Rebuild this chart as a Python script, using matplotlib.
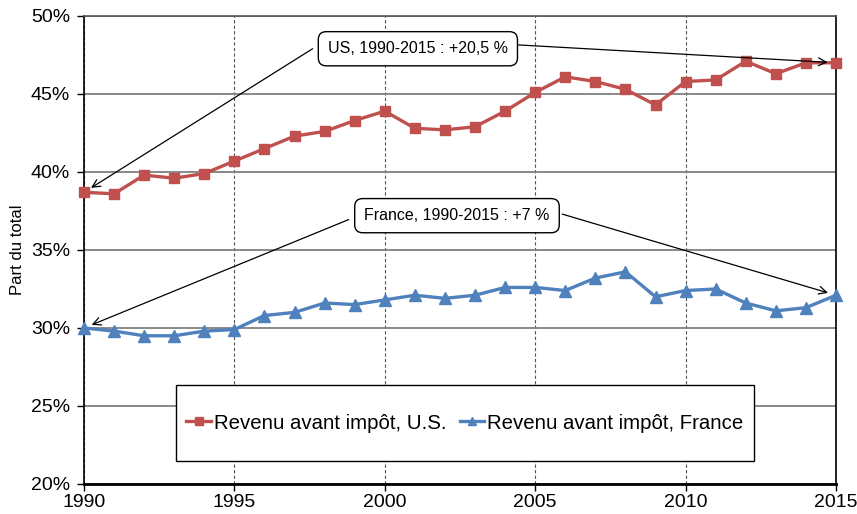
import matplotlib
matplotlib.use('Agg')
import matplotlib.pyplot as plt
from matplotlib.patches import Rectangle
from matplotlib.ticker import FuncFormatter

plt.rcParams['font.family'] = ['Liberation Sans', 'DejaVu Sans']

# données
years = list(range(1990, 2016))
us = [38.7, 38.6, 39.8, 39.6, 39.9, 40.7, 41.5, 42.3, 42.6, 43.3,
      43.9, 42.8, 42.7, 42.9, 43.9, 45.1, 46.1, 45.8, 45.3, 44.3,
      45.8, 45.9, 47.1, 46.3, 47.0, 47.0]
france = [30.0, 29.8, 29.5, 29.5, 29.8, 29.9, 30.8, 31.0, 31.6, 31.5,
          31.8, 32.1, 31.9, 32.1, 32.6, 32.6, 32.4, 33.2, 33.6, 32.0,
          32.4, 32.5, 31.6, 31.1, 31.3, 32.1]

RED = '#C0504D'
BLUE = '#4F81BD'

fig = plt.figure(figsize=(8.57, 5.14), dpi=100, facecolor='white')
ax = fig.add_axes([0.098, 0.0584, 0.8775, 0.9105])

ax.plot(years, us, color=RED, lw=2.4, marker='s', ms=7.5, mec=RED,
        label='Revenu avant impôt, U.S.', zorder=4, clip_on=False)
ax.plot(years, france, color=BLUE, lw=2.4, marker='^', ms=8, mec=BLUE,
        label='Revenu avant impôt, France', zorder=4, clip_on=False)

ax.set_xlim(1990, 2015)
ax.set_ylim(20, 50)
ax.set_xticks(range(1990, 2016, 5))
ax.set_yticks(range(20, 51, 5))
ax.yaxis.set_major_formatter(FuncFormatter(lambda v, p: f'{v:.0f}%'))
ax.tick_params(labelsize=14, direction='out', length=5, width=1,
               colors='black')
ax.tick_params(axis='y', pad=5)
ax.tick_params(axis='x', pad=2)
ax.set_ylabel('Part du total', fontsize=12, labelpad=4)

# quadrillage
ax.yaxis.grid(True, color='#808080', lw=1.3, ls='-', zorder=0)
ax.xaxis.grid(True, color='#555555', lw=0.8, ls=(0, (3, 2)), zorder=0)
for s in ax.spines.values():
    s.set_color('black')
    s.set_linewidth(1.2)
ax.spines['bottom'].set_linewidth(2)
ax.spines['top'].set_color('#555555')

# annotations
box = dict(boxstyle='round,pad=0.6,rounding_size=0.5', fc='white',
           ec='black', lw=1)
arrow = dict(arrowstyle='->', color='black', lw=0.9,
             shrinkA=0, shrinkB=6, mutation_scale=14)

ax.text(2001.1, 47.9, 'US, 1990-2015 : +20,5 %', fontsize=11.5,
        ha='center', va='center', bbox=box, zorder=6)
ax.annotate('', xy=(years[0], us[0]), xytext=(1997.6, 47.9),
            arrowprops=arrow, zorder=5)
ax.annotate('', xy=(years[-1], us[-1]), xytext=(2004.4, 48.15),
            arrowprops=arrow, zorder=5)

ax.text(2002.4, 37.2, 'France, 1990-2015 : +7 %', fontsize=11.5,
        ha='center', va='center', bbox=box, zorder=6)
ax.annotate('', xy=(years[0], france[0]), xytext=(1998.8, 36.95),
            arrowprops=arrow, zorder=5)
ax.annotate('', xy=(years[-1], france[-1]), xytext=(2005.9, 37.3),
            arrowprops=arrow, zorder=5)

# cadre de légende (plus haut que large, comme dans Excel)
ax.add_patch(Rectangle((0.1223, 0.0491), 0.7687, 0.1624,
                       transform=ax.transAxes, fc='white', ec='black',
                       lw=1, zorder=6))
leg = ax.legend(loc='center', bbox_to_anchor=(0.5066, 0.1303), ncol=2,
                fontsize=14.7, frameon=False, handlelength=1.2,
                handletextpad=0.15, columnspacing=0.65, borderpad=0,
                markerscale=0.8)
leg.set_zorder(7)

fig.savefig('out.png', dpi=100, facecolor='white')
